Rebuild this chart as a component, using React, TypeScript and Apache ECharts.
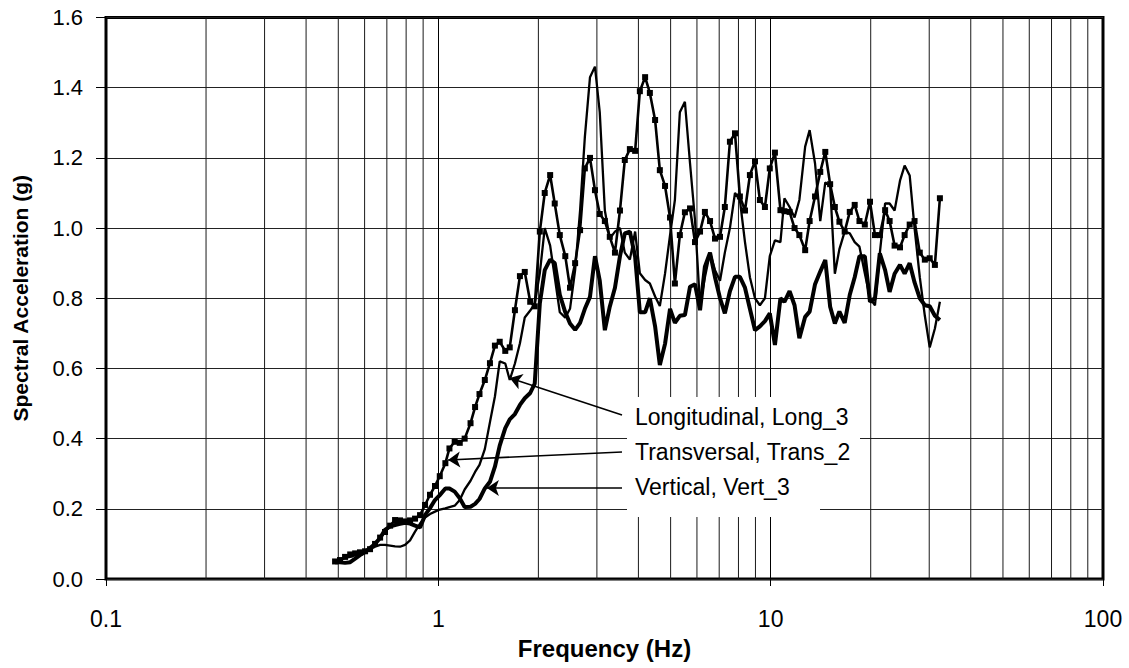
import React, { useEffect, useRef } from "react";
import * as echarts from "echarts";

const FONT = "'Liberation Sans', Arial, Helvetica, sans-serif";

// Frequencies (Hz) at which the three spectra are read
const freqHz = [
  0.489, 0.506, 0.524, 0.543, 0.562, 0.581, 0.602, 0.623, 0.645, 0.668,
  0.691, 0.716, 0.741, 0.767, 0.794, 0.822, 0.851, 0.881, 0.912, 0.944,
  0.977, 1.01, 1.05, 1.08, 1.12, 1.16, 1.2, 1.25, 1.29, 1.33,
  1.38, 1.43, 1.48, 1.53, 1.59, 1.64, 1.7, 1.76, 1.82, 1.89,
  1.95, 2.02, 2.09, 2.17, 2.24, 2.32, 2.41, 2.49, 2.58, 2.67,
  2.76, 2.86, 2.96, 3.06, 3.17, 3.28, 3.4, 3.52, 3.64, 3.77,
  3.91, 4.04, 4.19, 4.33, 4.49, 4.64, 4.81, 4.98, 5.15, 5.33,
  5.52, 5.72, 5.92, 6.13, 6.34, 6.57, 6.8, 7.04, 7.28, 7.54,
  7.81, 8.08, 8.37, 8.66, 8.97, 9.28, 9.61, 9.94, 10.3, 10.7,
  11.0, 11.4, 11.8, 12.2, 12.7, 13.1, 13.6, 14.1, 14.6, 15.1,
  15.6, 16.1, 16.7, 17.3, 17.9, 18.5, 19.2, 19.9, 20.6, 21.3,
  22.1, 22.8, 23.6, 24.5, 25.3, 26.2, 27.1, 28.1, 29.1, 30.1,
  31.2, 32.3,
];

// Transversal, Trans_2 (line with square markers)
const transversal = [
  0.05, 0.054, 0.063, 0.07, 0.073, 0.076, 0.079, 0.085, 0.1, 0.118,
  0.134, 0.152, 0.168, 0.167, 0.164, 0.167, 0.172, 0.182, 0.211, 0.24,
  0.265, 0.293, 0.33, 0.372, 0.391, 0.388, 0.4, 0.444, 0.49, 0.527,
  0.567, 0.615, 0.665, 0.676, 0.65, 0.66, 0.766, 0.863, 0.875, 0.79,
  0.777, 0.99, 1.1, 1.151, 1.07, 0.98, 0.92, 0.83, 0.9, 0.994,
  1.17, 1.2, 1.108, 1.04, 1.02, 0.975, 0.93, 1.05, 1.194, 1.225,
  1.22, 1.39, 1.43, 1.385, 1.308, 1.165, 1.12, 1.03, 0.842, 0.98,
  1.045, 1.056, 0.96, 0.99, 1.046, 1.02, 0.97, 0.975, 1.06, 1.246,
  1.27, 1.09, 1.05, 1.151, 1.19, 1.08, 1.06, 1.17, 1.215, 1.051,
  1.048, 1.046, 1.0, 0.98, 0.937, 1.02, 1.09, 1.16, 1.217, 1.125,
  1.06, 1.018, 0.99, 1.046, 1.066, 1.02, 1.01, 1.075, 0.98, 0.98,
  1.051, 1.02, 0.95, 0.945, 0.98, 1.01, 1.02, 0.93, 0.91, 0.914,
  0.895, 1.085,
];

// Longitudinal, Long_3 (thin line)
const longitudinal = [
  0.049, 0.054, 0.06, 0.063, 0.068, 0.072, 0.077, 0.085, 0.092, 0.097,
  0.097, 0.095, 0.093, 0.092, 0.097, 0.11, 0.135, 0.158, 0.175, 0.185,
  0.192, 0.198, 0.201, 0.205, 0.209, 0.225, 0.255, 0.28, 0.305, 0.325,
  0.37, 0.447, 0.52, 0.62, 0.614, 0.567, 0.614, 0.672, 0.745, 0.765,
  0.785, 0.871, 1.0, 0.95, 0.86, 0.76, 0.745, 0.77, 0.88, 1.05,
  1.26, 1.43, 1.46, 1.33, 1.05, 0.97, 0.99, 1.0, 0.93, 0.91,
  0.99, 0.871, 0.852, 0.842, 0.805, 0.778, 0.87, 0.98, 1.08, 1.33,
  1.36, 1.184, 1.023, 0.78, 0.86, 0.93, 0.88, 0.85, 0.93, 1.0,
  1.1, 1.08, 0.96, 0.86, 0.8, 0.78, 0.8, 0.92, 0.965, 0.96,
  1.085, 1.06, 1.03, 1.08, 1.232, 1.279, 1.184, 1.02, 1.13, 1.12,
  0.87, 0.94, 0.99, 0.985, 0.96, 0.947, 0.871, 0.8, 0.78, 0.928,
  1.07, 1.07, 1.05, 1.135, 1.178, 1.15, 1.0, 0.86, 0.75, 0.66,
  0.714, 0.79,
];

// Vertical, Vert_3 (thick line)
const vertical = [
  0.048, 0.048, 0.046, 0.048, 0.058, 0.068, 0.077, 0.088, 0.1, 0.117,
  0.14, 0.15, 0.154, 0.157, 0.16, 0.158, 0.152, 0.147, 0.182, 0.202,
  0.225, 0.239, 0.258, 0.258, 0.249, 0.23, 0.205, 0.206, 0.214, 0.228,
  0.258, 0.277, 0.32, 0.38, 0.43, 0.455, 0.47, 0.496, 0.515, 0.53,
  0.557, 0.785, 0.88, 0.91, 0.9, 0.81, 0.76, 0.728, 0.71, 0.73,
  0.77, 0.804, 0.92, 0.85, 0.709, 0.776, 0.83, 0.92, 0.985, 0.99,
  0.918, 0.76, 0.76, 0.8, 0.72, 0.61, 0.67, 0.77, 0.73, 0.75,
  0.752, 0.833, 0.84, 0.766, 0.89, 0.93, 0.86, 0.8, 0.757, 0.82,
  0.861, 0.861, 0.83, 0.77, 0.709, 0.72, 0.735, 0.757, 0.667, 0.8,
  0.79, 0.82, 0.78, 0.686, 0.747, 0.762, 0.84, 0.876, 0.909, 0.776,
  0.728, 0.762, 0.73, 0.81, 0.86, 0.92, 0.92, 0.79, 0.8, 0.928,
  0.88, 0.818, 0.87, 0.895, 0.87, 0.9, 0.845, 0.8, 0.78, 0.777,
  0.75, 0.738,
];

// Minor vertical gridlines of the log axis
const minorGridHz = [
  0.2, 0.3, 0.4, 0.5, 0.6, 0.7, 0.8, 0.9,
  2, 3, 4, 5, 6, 7, 8, 9,
  20, 30, 40, 50, 60, 70, 80, 90,
];

// Annotations: label text, arrow tail (near label) and arrow head (on curve), data coords
const annotLabels = ["Longitudinal, Long_3", "Transversal, Trans_2", "Vertical, Vert_3"];
const arrowTail = [
  [3.57, 0.467],
  [3.57, 0.362],
  [3.57, 0.259],
];
const arrowHead = [
  [1.64, 0.573],
  [1.07, 0.339],
  [1.4, 0.259],
];

const pairs = (vals: number[]) => freqHz.map((f, i) => [f, vals[i]]);

export default function App() {
  const ref = useRef<HTMLDivElement>(null);
  useEffect(() => {
    if (!ref.current) return;
    const chart = echarts.init(ref.current, undefined, { renderer: "svg" });
    const option: any = {
      animation: false,
      backgroundColor: "#ffffff",
      grid: {
        left: 106,
        right: 26,
        top: 17.5,
        bottom: 89,
        show: true,
        borderColor: "#000",
        borderWidth: 3,
        backgroundColor: "transparent",
      },
      xAxis: {
        type: "log",
        logBase: 10,
        min: 0.1,
        max: 100,
        axisLine: { show: false },
        axisTick: { show: true, length: 7, lineStyle: { color: "#000", width: 1 } },
        axisLabel: {
          margin: 28,
          fontSize: 23,
          color: "#000",
          fontFamily: FONT,
          formatter: (v: number) => (v < 1 ? v.toFixed(1) : String(Math.round(v))),
        },
        splitLine: { show: true, lineStyle: { color: "#000", width: 1 } },
        name: "Frequency (Hz)",
        nameLocation: "middle",
        nameGap: 57,
        nameTextStyle: { fontSize: 24, fontWeight: "bold", color: "#000", fontFamily: FONT },
      },
      yAxis: {
        type: "value",
        min: 0,
        max: 1.6,
        interval: 0.2,
        axisLine: { show: false },
        axisTick: { show: true, length: 10, lineStyle: { color: "#000", width: 1 } },
        axisLabel: {
          margin: 23,
          fontSize: 22,
          color: "#000",
          fontFamily: FONT,
          formatter: (v: number) => v.toFixed(1),
        },
        splitLine: { show: true, lineStyle: { color: "#222", width: 1 } },
        name: "Spectral Acceleration (g)",
        nameLocation: "middle",
        nameGap: 75,
        nameTextStyle: { fontSize: 21, fontWeight: "bold", color: "#000", fontFamily: FONT },
      },
      series: [
        {
          type: "custom",
          name: "minorGrid",
          silent: true,
          z: 1,
          data: minorGridHz.map((f) => [f, 0]),
          encode: { x: 0, y: 1 },
          renderItem: (params: any, api: any) => {
            const f = api.value(0);
            const p0 = api.coord([f, 0]);
            const p1 = api.coord([f, 1.6]);
            return {
              type: "line",
              shape: { x1: p0[0], y1: p0[1], x2: p1[0], y2: p1[1] },
              style: { stroke: "#1a1a1a", lineWidth: 1 },
            };
          },
        },
        {
          type: "line",
          name: "Vertical, Vert_3",
          data: pairs(vertical),
          showSymbol: false,
          lineStyle: { color: "#000", width: 4 },
          z: 3,
          markLine: {
            silent: true,
            symbol: ["none", "arrow"],
            symbolSize: 12,
            label: { show: false },
            lineStyle: { color: "#000", width: 1.6, type: "solid" },
            itemStyle: { color: "#000" },
            emphasis: { disabled: true },
            data: arrowTail.map((t, i) => [{ coord: t }, { coord: arrowHead[i] }]),
          },
        },
        {
          type: "line",
          name: "Longitudinal, Long_3",
          data: pairs(longitudinal),
          showSymbol: false,
          lineStyle: { color: "#000", width: 2.3 },
          z: 3,
        },
        {
          type: "line",
          name: "Transversal, Trans_2",
          data: pairs(transversal),
          showSymbol: true,
          showAllSymbol: true,
          symbol: "rect",
          symbolSize: 6,
          itemStyle: { color: "#000", borderWidth: 0 },
          lineStyle: { color: "#000", width: 2.6 },
          z: 3,
        },
      ],
      graphic: [
        { type: "rect", z: 100, shape: { x: 627, y: 397, width: 233, height: 73 }, style: { fill: "#fff" } },
        { type: "rect", z: 100, shape: { x: 627, y: 470, width: 193, height: 47 }, style: { fill: "#fff" } },
        ...annotLabels.map((t, i) => ({
          type: "text",
          z: 101,
          x: 635,
          y: 417 + i * 35,
          style: {
            text: t,
            fill: "#000",
            font: `23px ${FONT}`,
            textVerticalAlign: "middle",
            verticalAlign: "middle",
          },
        })),
      ],
    };
    chart.setOption(option);
    return () => chart.dispose();
  }, []);
  return (
    <div
      ref={ref}
      style={{ position: "fixed", left: 0, top: 0, width: 1129, height: 668, background: "#fff" }}
    />
  );
}
